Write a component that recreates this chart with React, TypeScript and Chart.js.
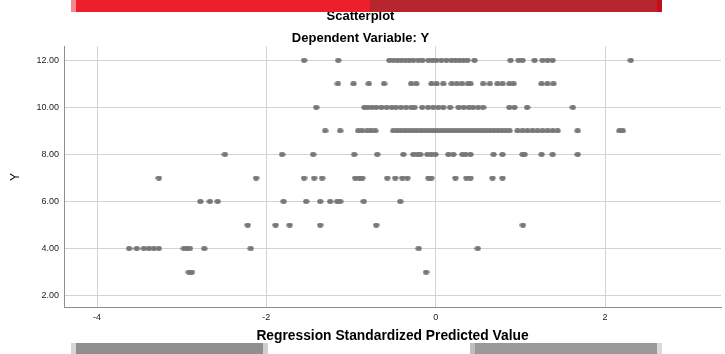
import React, { useEffect, useRef } from "react";
import { Chart, registerables } from "chart.js";

Chart.register(...registerables);

// Predicted (standardized) values for each observed Y level
const predAtY12 = [-1.554, -1.151, -0.548, -0.501, -0.453, -0.406, -0.359, -0.311, -0.264, -0.205, -0.157, -0.086, -0.039, 0.008, 0.067, 0.127, 0.186, 0.233, 0.28, 0.328, 0.375, 0.458, 0.884, 0.979, 1.026, 1.168, 1.262, 1.322, 1.381, 2.304];
const predAtY11 = [-1.155, -0.97, -0.79, -0.61, -0.29, -0.23, -0.05, 0.01, 0.09, 0.19, 0.25, 0.31, 0.38, 0.41, 0.56, 0.64, 0.73, 0.79, 0.87, 0.92, 1.25, 1.32, 1.39];
const predAtY10 = [-1.41, -0.84, -0.8, -0.75, -0.7, -0.64, -0.58, -0.52, -0.47, -0.41, -0.35, -0.29, -0.25, -0.16, -0.09, -0.03, 0.03, 0.09, 0.17, 0.27, 0.33, 0.39, 0.44, 0.5, 0.56, 0.87, 0.93, 1.08, 1.62];
const predAtY9 = [-1.305, -1.128, -0.915, -0.868, -0.808, -0.761, -0.714, -0.501, -0.453, -0.406, -0.359, -0.311, -0.264, -0.217, -0.169, -0.122, -0.075, -0.027, 0.02, 0.067, 0.115, 0.162, 0.209, 0.257, 0.304, 0.351, 0.399, 0.446, 0.493, 0.541, 0.588, 0.635, 0.683, 0.73, 0.778, 0.825, 0.872, 0.967, 1.026, 1.085, 1.144, 1.203, 1.262, 1.322, 1.381, 1.44, 1.677, 2.17, 2.21];
const predAtY8 = [-2.489, -1.814, -1.447, -0.962, -0.69, -0.382, -0.264, -0.217, -0.181, -0.098, -0.051, -0.004, 0.15, 0.209, 0.316, 0.351, 0.411, 0.683, 0.789, 1.026, 1.05, 1.251, 1.381, 1.677];
const predAtY7 = [-3.27, -2.122, -1.554, -1.435, -1.341, -0.95, -0.903, -0.867, -0.572, -0.477, -0.394, -0.335, -0.086, -0.051, 0.233, 0.363, 0.411, 0.671, 0.789];
const predAtY6 = [-2.779, -2.666, -2.575, -1.796, -1.53, -1.364, -1.246, -1.163, -1.128, -0.85, -0.418];
const predAtY5 = [-2.22, -1.891, -1.725, -1.364, -0.702, 1.03];
const predAtY4 = [-3.621, -3.53, -3.447, -3.388, -3.329, -3.27, -2.974, -2.939, -2.903, -2.734, -2.185, -0.201, 0.497];
const predAtY3 = [-2.915, -2.88, -0.114];

const yLevels = [12, 11, 10, 9, 8, 7, 6, 5, 4, 3];
const predByLevel = [predAtY12, predAtY11, predAtY10, predAtY9, predAtY8, predAtY7, predAtY6, predAtY5, predAtY4, predAtY3];

const xTickValues = [-4, -2, 0, 2];
const yTickValues = [2, 4, 6, 8, 10, 12];

const chartTitle = "Scatterplot";
const chartSubtitle = "Dependent Variable: Y";
const xTitle = "Regression Standardized Predicted Value";
const yTitle = "Y";

function makeDot(): HTMLCanvasElement {
  const c = document.createElement("canvas");
  c.width = 7;
  c.height = 5;
  const g = c.getContext("2d")!;
  g.fillStyle = "#777777";
  g.beginPath();
  g.ellipse(3.5, 2.5, 3.2, 2.45, 0, 0, Math.PI * 2);
  g.fill();
  return c;
}

export default function App() {
  const ref = useRef<HTMLCanvasElement | null>(null);

  useEffect(() => {
    document.body.style.margin = "0";
    const points: { x: number; y: number }[] = [];
    yLevels.forEach((lv, i) => {
      predByLevel[i].forEach((p) => points.push({ x: p, y: lv }));
    });
    const dot = makeDot();
    const fontFam = "Arial, 'Liberation Sans', sans-serif";
    const chart = new Chart(ref.current!, {
      type: "scatter",
      data: {
        datasets: [
          {
            data: points,
            pointStyle: dot as any,
            pointRadius: 3,
            pointHoverRadius: 3,
            backgroundColor: "#777777",
            borderWidth: 0,
          },
        ],
      },
      options: {
        animation: false,
        responsive: false,
        maintainAspectRatio: false,
        layout: { padding: { top: 0, left: 0, right: 4, bottom: 0 } },
        plugins: {
          legend: { display: false },
          tooltip: { enabled: false },
          title: {
            display: true,
            text: chartTitle,
            color: "#000",
            font: { family: fontFam, size: 13, weight: "bold" },
            padding: { top: 9, bottom: 0 },
          },
          subtitle: {
            display: true,
            text: chartSubtitle,
            color: "#000",
            font: { family: fontFam, size: 13, weight: "bold" },
            padding: { top: 6, bottom: 0 },
          },
        },
        scales: {
          x: {
            type: "linear",
            min: -4.39,
            max: 3.37,
            bounds: "data",
            afterBuildTicks: (s: any) => {
              s.ticks = xTickValues.map((v) => ({ value: v }));
            },
            afterFit: (s: any) => {
              s.height = 46.3;
            },
            ticks: {
              color: "#222",
              font: { family: fontFam, size: 9 },
              padding: 4,
              callback: (v: any) => String(v),
            },
            grid: { color: "#d2d2d2", lineWidth: 1, drawTicks: false },
            border: { color: "#8f8f8f", width: 1 },
            title: {
              display: true,
              text: xTitle,
              color: "#000",
              font: { family: fontFam, size: 13.8, weight: "bold" },
              padding: { top: 4, bottom: 9.5 },
            },
          },
          y: {
            type: "linear",
            min: 1.49,
            max: 12.6,
            bounds: "data",
            afterBuildTicks: (s: any) => {
              s.ticks = yTickValues.map((v) => ({ value: v }));
            },
            afterFit: (s: any) => {
              s.width = 64;
            },
            ticks: {
              color: "#222",
              font: { family: fontFam, size: 9 },
              padding: 5,
              callback: (v: any) => Number(v).toFixed(2),
            },
            grid: { color: "#d2d2d2", lineWidth: 1, drawTicks: false },
            border: { color: "#8f8f8f", width: 1 },
            title: {
              display: true,
              text: yTitle,
              color: "#000",
              font: { family: fontFam, size: 12 },
              padding: { top: 8, bottom: 4 },
            },
          },
        },
      },
    });
    return () => chart.destroy();
  }, []);

  const bar = (left: number, top: number, width: number, height: number, bg: string) => (
    <div style={{ position: "absolute", left, top, width, height, background: bg }} />
  );

  return (
    <div style={{ position: "absolute", left: 0, top: 0, width: 725, height: 354, background: "#fff", overflow: "hidden" }}>
      <canvas ref={ref} width={725} height={354} style={{ position: "absolute", left: 0, top: 0, width: 725, height: 354 }} />
      {bar(71, 0, 5, 12, "#f28a8e")}
      {bar(76, 0, 294, 12, "#ee1f2b")}
      {bar(370, 0, 287, 12, "#b8262d")}
      {bar(657, 0, 5, 12, "#c40e1c")}
      {bar(71, 343, 5, 11, "#d6d6d6")}
      {bar(76, 343, 187, 11, "#8f8f8f")}
      {bar(263, 343, 5, 11, "#cfcfcf")}
      {bar(470, 343, 5, 11, "#bdbdbd")}
      {bar(475, 343, 182, 11, "#999999")}
      {bar(657, 343, 5, 11, "#dadada")}
    </div>
  );
}
